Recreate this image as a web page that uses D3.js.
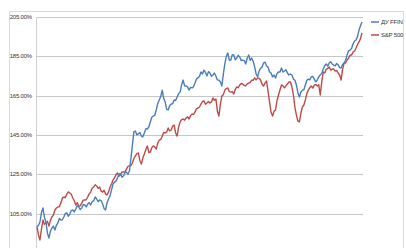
<!DOCTYPE html>
<html>
<head>
<meta charset="utf-8">
<script src="https://cdn.jsdelivr.net/npm/d3@7"></script>
<style>
  body { margin: 0; background: #fff; }
  svg { display: block; }
</style>
</head>
<body>
<div id="chart"></div>
<script>
// tick labels on the left axis
var tickValues = [105, 125, 145, 165, 185, 205];

// series names
var seriesNames = ["ДУ FFIN", "S&P 500"];

// ДУ FFIN, % of start (roughly every 1.5px)
var ffin = [98.1, 99.0, 100.7, 105.5, 107.8, 103.0, 100.7, 95.0, 92.5, 96.0,
  97.6, 98.5, 96.6, 99.0, 100.2, 102.5, 101.7, 101.8, 103.2, 105.0,
  105.3, 103.6, 104.7, 106.5, 106.8, 105.8, 107.3, 108.9, 108.3, 107.0,
  107.8, 109.5, 109.3, 108.4, 109.8, 110.6, 109.3, 111.0, 111.4, 113.4,
  112.4, 111.0, 111.9, 111.6, 109.8, 107.5, 106.8, 110.5, 112.4, 114.0,
  117.0, 120.0, 121.0, 121.5, 123.1, 125.3, 125.1, 123.5, 124.1, 125.8,
  126.1, 125.0, 126.6, 133.0, 139.9, 146.5, 147.0, 145.0, 145.5, 146.2,
  144.4, 144.0, 146.0, 148.2, 148.0, 149.0, 151.6, 154.0, 154.6, 155.0,
  157.7, 161.0, 162.8, 164.5, 167.8, 163.5, 161.7, 158.0, 157.7, 160.0,
  160.7, 160.8, 162.8, 162.5, 164.3, 166.0, 166.8, 170.5, 172.9, 170.0,
  169.9, 169.5, 167.8, 169.2, 168.9, 169.5, 171.4, 173.5, 174.0, 174.8,
  177.0, 176.0, 178.0, 176.8, 175.0, 177.2, 176.5, 174.8, 175.5, 176.5,
  175.0, 173.0, 172.9, 172.0, 169.9, 176.0, 181.1, 185.0, 186.7, 183.0,
  183.1, 185.8, 185.7, 183.2, 184.1, 185.5, 184.6, 182.8, 183.1, 182.8,
  181.1, 184.0, 185.7, 183.0, 184.1, 182.5, 179.6, 176.0, 174.5, 177.5,
  179.0, 179.5, 181.6, 182.0, 180.1, 179.5, 177.0, 176.5, 174.5, 175.5,
  174.0, 176.2, 177.0, 177.0, 179.0, 177.0, 177.5, 178.2, 176.5, 175.5,
  176.0, 175.5, 173.4, 172.8, 170.4, 166.5, 164.3, 166.8, 167.8, 168.0,
  170.4, 172.8, 173.4, 173.0, 174.5, 174.8, 173.4, 172.0, 172.9, 174.6,
  175.5, 176.2, 178.5, 180.2, 181.1, 180.0, 181.6, 182.2, 181.1, 180.5,
  180.1, 181.4, 180.6, 179.2, 179.0, 180.8, 181.6, 183.0, 185.7, 187.8,
  188.2, 189.0, 191.3, 192.8, 193.3, 195.0, 198.4, 200.5, 202.5];

// S&P 500, % of start
var spx = [98.1, 94.0, 91.5, 97.0, 101.7, 99.5, 100.2, 101.0, 98.6, 101.5,
  103.2, 104.2, 106.8, 107.8, 108.3, 108.5, 110.3, 112.8, 113.4, 113.0,
  114.9, 116.0, 115.4, 114.8, 112.9, 111.5, 109.3, 110.5, 108.8, 108.9,
  110.3, 111.8, 111.9, 112.0, 113.4, 115.0, 115.9, 117.8, 118.5, 119.6,
  119.0, 117.8, 118.5, 116.5, 115.9, 116.8, 114.9, 114.5, 115.9, 118.5,
  120.0, 122.0, 123.1, 124.8, 125.6, 124.0, 124.6, 126.2, 126.1, 126.2,
  127.6, 129.0, 129.2, 129.5, 130.7, 133.0, 134.3, 135.5, 135.8, 132.0,
  130.2, 133.2, 135.3, 137.5, 139.4, 136.0, 136.3, 138.5, 139.4, 138.8,
  137.8, 140.8, 142.4, 142.6, 144.4, 146.2, 146.0, 146.5, 148.5, 147.0,
  147.5, 149.5, 150.0, 146.0, 144.4, 149.0, 151.6, 152.8, 153.1, 152.5,
  153.6, 154.2, 153.1, 154.8, 155.6, 155.5, 156.7, 158.4, 158.7, 159.2,
  160.7, 162.0, 162.3, 160.6, 161.2, 162.0, 161.2, 161.8, 163.8, 162.6,
  163.3, 157.0, 154.6, 160.5, 164.8, 165.5, 167.8, 168.6, 168.9, 167.0,
  166.8, 167.0, 165.8, 168.2, 169.4, 169.0, 170.4, 171.2, 170.9, 170.2,
  169.9, 171.0, 171.4, 171.6, 172.9, 172.8, 174.0, 173.0, 174.0, 173.8,
  172.9, 170.8, 169.9, 171.5, 172.4, 167.0, 161.7, 156.5, 154.6, 157.0,
  157.7, 162.5, 165.3, 168.0, 170.4, 170.0, 168.9, 170.0, 170.9, 172.0,
  171.9, 169.5, 165.3, 159.0, 155.1, 152.0, 151.6, 156.0, 159.2, 160.2,
  162.8, 166.0, 167.8, 169.0, 169.9, 168.8, 170.4, 170.6, 169.9, 170.5,
  165.3, 172.0, 177.0, 176.5, 178.5, 178.8, 179.6, 178.0, 178.5, 178.5,
  177.5, 177.8, 176.5, 175.5, 172.9, 178.5, 181.6, 181.6, 183.1, 184.0,
  185.7, 185.6, 187.2, 187.6, 189.2, 191.0, 192.3, 194.0, 196.9];

var colors = ["#4a7ebb", "#be4b48"];

var width = 406,
    height = 248;

var svg = d3.select("#chart")
  .append("svg")
    .attr("width", width)
    .attr("height", height);

// outer chart frame
svg.append("rect")
  .attr("x", 9.5)
  .attr("y", 11.5)
  .attr("width", 394)
  .attr("height", 250)
  .attr("fill", "none")
  .attr("stroke", "#d9d9d9");

var x = d3.scaleLinear()
  .domain([0, ffin.length - 1])
  .range([37, 362]);

var y = d3.scaleLinear()
  .domain([85, 205])
  .range([17 + 6 * 39.3, 17]);

// horizontal gridlines
svg.selectAll(".grid")
  .data(tickValues)
  .enter()
  .append("line")
    .attr("x1", 36)
    .attr("x2", 363)
    .attr("y1", function(d) { return Math.round(y(d)) + 0.5; })
    .attr("y2", function(d) { return Math.round(y(d)) + 0.5; })
    .attr("stroke", "#c6c6c6")
    .attr("stroke-width", 1);

// vertical axis line
svg.append("line")
  .attr("x1", 36.5)
  .attr("x2", 36.5)
  .attr("y1", y(205))
  .attr("y2", height)
  .attr("stroke", "#d0d0d0");

// tick labels
svg.selectAll(".tick-label")
  .data(tickValues)
  .enter()
  .append("text")
    .attr("x", 32)
    .attr("y", function(d) { return y(d); })
    .attr("dy", "0.35em")
    .attr("text-anchor", "end")
    .style("font-family", "Liberation Sans, Arial, sans-serif")
    .style("font-size", "6px")
    .style("letter-spacing", "-0.2px")
    .style("fill", "#333")
    .text(function(d) { return d.toFixed(2) + "%"; });

var line = d3.line()
  .x(function(d, i) { return x(i); })
  .y(function(d) { return y(d); });

// red first so blue sits on top like the reference
[spx, ffin].forEach(function(s, k) {
  svg.append("path")
    .datum(s)
    .attr("d", line)
    .attr("fill", "none")
    .attr("stroke", k == 0 ? colors[1] : colors[0])
    .attr("stroke-width", 1.4)
    .attr("stroke-linejoin", "round");
});

// legend
var legend = svg.selectAll(".legend")
  .data(seriesNames)
  .enter()
  .append("g")
    .attr("transform", function(d, i) { return "translate(371," + (22 + i * 13) + ")"; });

legend.append("line")
  .attr("x1", 0)
  .attr("x2", 8)
  .attr("stroke", function(d, i) { return colors[i]; })
  .attr("stroke-width", 1.5);

legend.append("text")
  .attr("x", 10)
  .attr("dy", "0.35em")
  .style("font-family", "Liberation Sans, Arial, sans-serif")
  .style("font-size", "6px")
  .style("letter-spacing", "-0.2px")
  .style("fill", "#333")
  .text(function(d) { return d; });
</script>
</body>
</html>
